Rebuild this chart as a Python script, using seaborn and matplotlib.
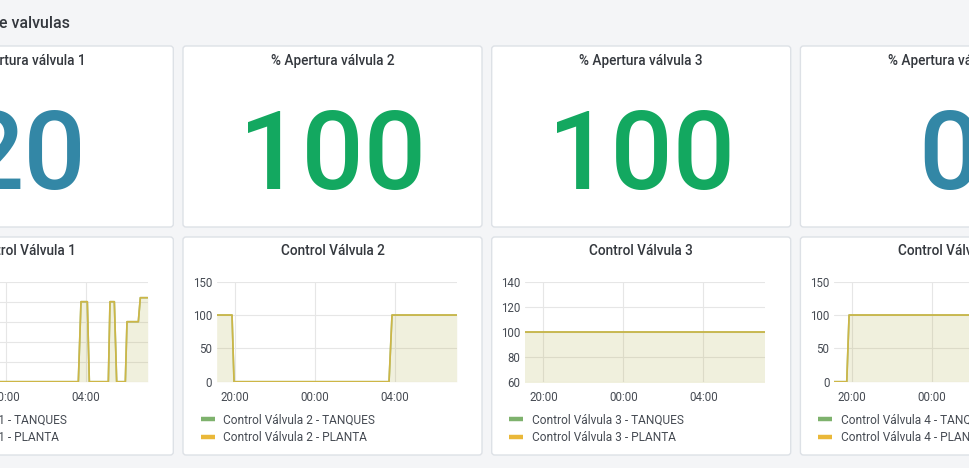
import matplotlib
matplotlib.use("Agg")
import matplotlib.pyplot as plt
import matplotlib.dates as mdates
from matplotlib.patches import FancyBboxPatch
from matplotlib.lines import Line2D
import seaborn as sns
import pandas as pd

# ---------------- data ----------------
DASHBOARD_TITLE = "de valvulas"
STAT_TITLES = ["% Apertura válvula 1", "% Apertura válvula 2",
               "% Apertura válvula 3", "% Apertura válvula 4"]
STAT_VALUES = [20, 100, 100, 0]
STAT_COLORS = ["#3387a6", "#13a860", "#13a860", "#3387a6"]

GRAPH_TITLES = ["Control Válvula 1", "Control Válvula 2",
                "Control Válvula 3", "Control Válvula 4"]
SERIES_SUFFIXES = ["TANQUES", "PLANTA"]
SERIES_COLORS = ["#7eb26d", "#eab839"]

TIME_START = "2024-01-01 19:06"
TIME_END = "2024-01-02 07:06"

v1_times = ["2024-01-01 19:06", "2024-01-02 03:37", "2024-01-02 03:45",
            "2024-01-02 04:04", "2024-01-02 04:10", "2024-01-02 05:07",
            "2024-01-02 05:12", "2024-01-02 05:25", "2024-01-02 05:32",
            "2024-01-02 05:58", "2024-01-02 06:03", "2024-01-02 06:37",
            "2024-01-02 06:43", "2024-01-02 07:05"]
v1_values = [0, 0, 100, 100, 0, 0, 100, 100, 0, 0, 75, 75, 105, 105]

v2_times = ["2024-01-01 19:06", "2024-01-01 19:52", "2024-01-01 19:58",
            "2024-01-02 03:43", "2024-01-02 03:52", "2024-01-02 07:06"]
v2_values = [100, 100, 0, 0, 100, 100]

v3_times = ["2024-01-01 19:06", "2024-01-02 07:06"]
v3_values = [100, 100]

v4_times = ["2024-01-01 19:06", "2024-01-01 19:44", "2024-01-01 19:51",
            "2024-01-02 07:06"]
v4_values = [0, 0, 100, 100]

VALVE_TIMES = [v1_times, v2_times, v3_times, v4_times]
VALVE_VALUES = [v1_values, v2_values, v3_values, v4_values]

Y_LIMITS = [(0, 125), (0, 150), (60, 140), (0, 150)]
Y_STEPS = [25, 50, 20, 50]

# ---------------- style ----------------
W, H = 970, 468
BG = "#f4f5f7"
TEXT = "#34383e"
TICK = "#464b53"

sns.set_theme(style="white")
plt.rcParams["font.family"] = ["Roboto", "DejaVu Sans"]

fig = plt.figure(figsize=(W / 100, H / 100), dpi=100, facecolor=BG)
bg = fig.add_axes([0, 0, 1, 1], zorder=0)
bg.set_xlim(0, W)
bg.set_ylim(H, 0)
bg.axis("off")

bg.text(70, 28, DASHBOARD_TITLE, ha="right", va="baseline", fontsize=11.5,
        fontweight="medium", color=TEXT)

PANEL_W = 299
PANEL_STEP = 308.7
PANEL_X0 = 183 - PANEL_STEP

for k in range(4):
    x0 = PANEL_X0 + k * PANEL_STEP
    cx = x0 + PANEL_W / 2
    # stat panel
    bg.add_patch(FancyBboxPatch((x0, 46), PANEL_W, 181,
                                boxstyle="round,pad=0,rounding_size=3",
                                fc="white", ec="#dde1e6", lw=1))
    bg.text(cx, 65, STAT_TITLES[k], ha="center", va="baseline", fontsize=9.8,
            fontweight="medium", color=TEXT)
    bg.text(cx, 189, str(STAT_VALUES[k]), ha="center", va="baseline",
            fontsize=79, fontweight="medium", color=STAT_COLORS[k])
    # graph panel
    bg.add_patch(FancyBboxPatch((x0, 237), PANEL_W, 218,
                                boxstyle="round,pad=0,rounding_size=3",
                                fc="white", ec="#dde1e6", lw=1))
    bg.text(cx, 255, GRAPH_TITLES[k], ha="center", va="baseline", fontsize=9.8,
            fontweight="medium", color=TEXT)

    pl, pr, pt, pb = x0 + 33.7, x0 + 273.7, 281.7, 381.7
    ax = fig.add_axes([pl / W, 1 - pb / H, (pr - pl) / W, (pb - pt) / H], zorder=2)
    ax.patch.set_alpha(0)

    t = pd.to_datetime(pd.Series(VALVE_TIMES[k]))
    v = VALVE_VALUES[k]
    names = [f"{GRAPH_TITLES[k]} - {s}" for s in SERIES_SUFFIXES]
    df = pd.concat([pd.DataFrame({"time": t, "value": v, "serie": n}) for n in names],
                   ignore_index=True)

    for n, c in zip(names, SERIES_COLORS):
        d = df[df["serie"] == n]
        ax.fill_between(d["time"], 0, d["value"], color=c, alpha=0.1, lw=0, zorder=1)

    sns.lineplot(data=df, x="time", y="value", hue="serie", hue_order=names,
                 palette=SERIES_COLORS, estimator=None, errorbar=None,
                 legend=False, linewidth=1.2, ax=ax, zorder=3)
    if len(ax.lines) > 1:
        ax.lines[-1].set_alpha(0.75)

    ax.set_xlim(pd.Timestamp(TIME_START), pd.Timestamp(TIME_END))
    lo, hi = Y_LIMITS[k]
    ax.set_ylim(lo, hi)
    ax.set_yticks(list(range(lo, hi + 1, Y_STEPS[k])))
    ax.xaxis.set_major_locator(mdates.HourLocator(byhour=[0, 4, 8, 12, 16, 20]))
    ax.xaxis.set_major_formatter(mdates.DateFormatter("%H:%M"))
    ax.set_xlabel("")
    ax.set_ylabel("")
    ax.grid(True, color="#e6e6e6", lw=0.8)
    ax.set_axisbelow(True)
    for s in ax.spines.values():
        s.set_visible(False)
    ax.tick_params(axis="both", length=0, labelsize=8.3, colors=TICK)
    ax.tick_params(axis="x", pad=7)
    ax.tick_params(axis="y", pad=3.4)

    # legend
    for j, (n, c) in enumerate(zip(names, SERIES_COLORS)):
        yc = 419 + j * 17.5
        bg.add_line(Line2D([pl - 16, pl - 2], [yc, yc], color=c, lw=3.2,
                           solid_capstyle="butt"))
        bg.text(pl + 6.5, yc + 4.5, n, ha="left", va="baseline", fontsize=8.6,
                color=TICK)

fig.savefig("out.png", dpi=100, facecolor=BG)
